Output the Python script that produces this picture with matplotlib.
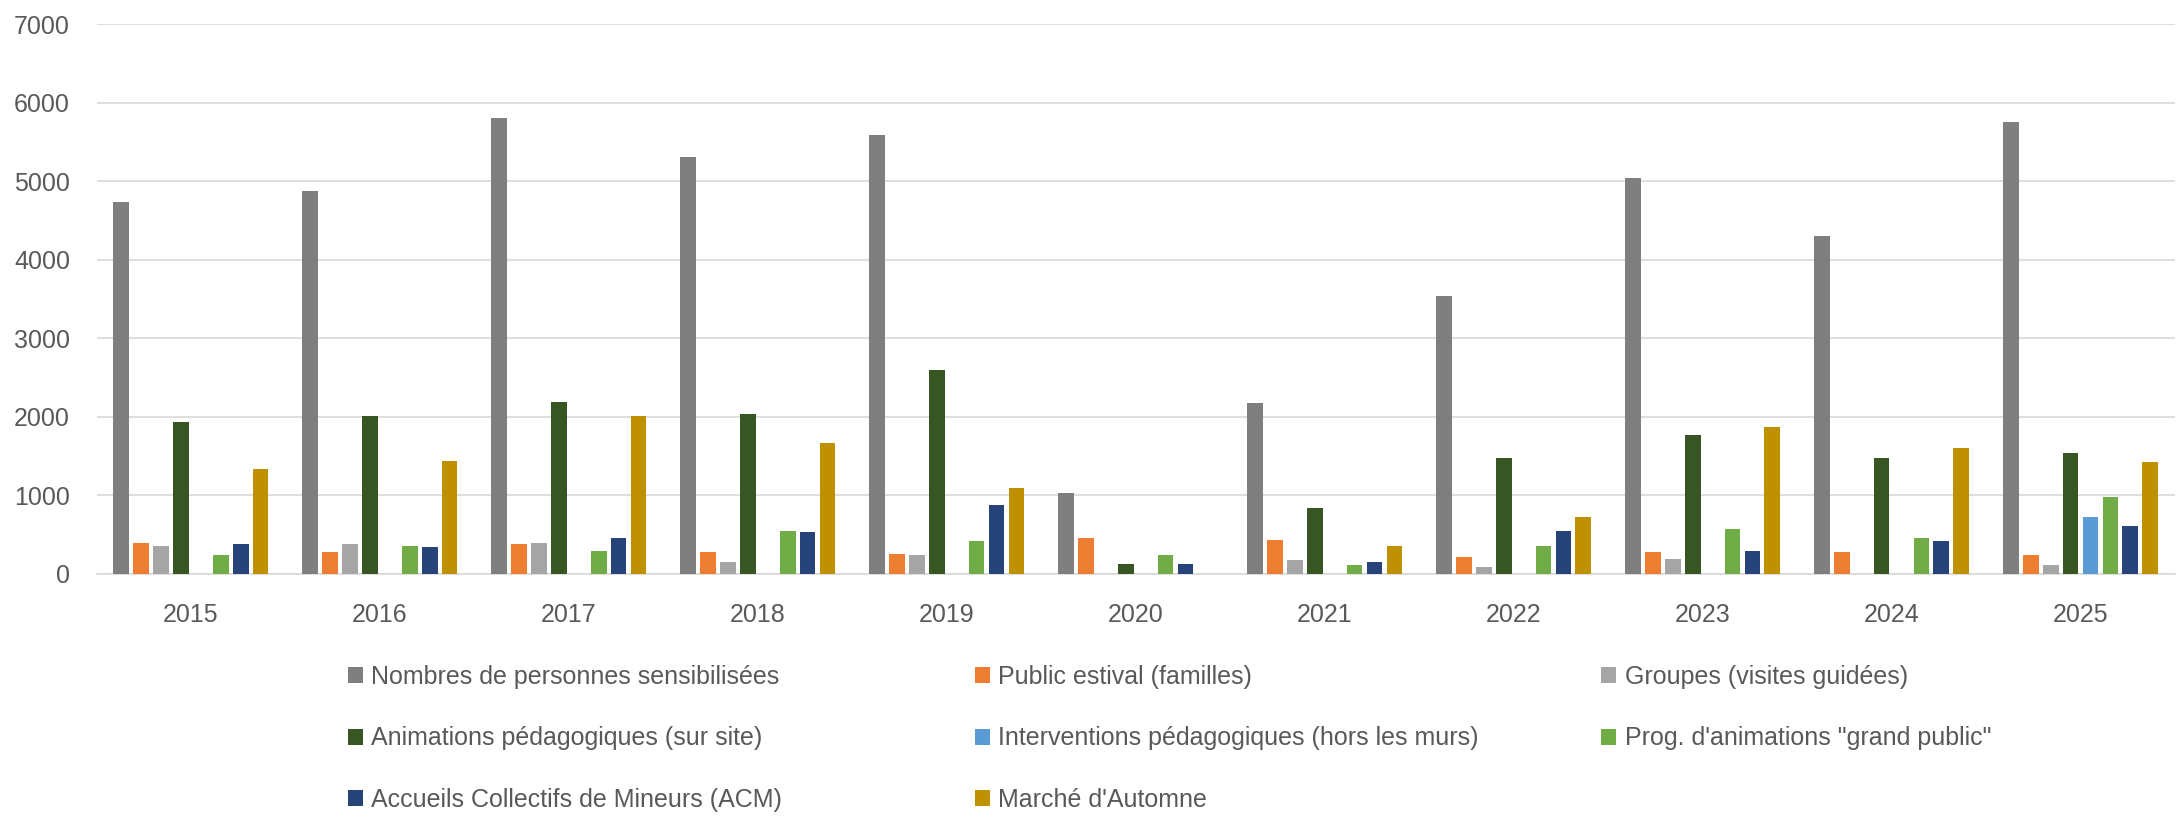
import matplotlib
matplotlib.use("Agg")
import matplotlib.pyplot as plt
import numpy as np
from matplotlib.patches import Patch

plt.rcParams['font.family'] = ['Liberation Sans', 'DejaVu Sans']

years = ["2015", "2016", "2017", "2018", "2019", "2020", "2021", "2022", "2023", "2024", "2025"]
nombres = [4735, 4875, 5806, 5309, 5593, 1031, 2171, 3540, 5041, 4305, 5755]
public_estival = [393, 270, 372, 270, 249, 453, 431, 210, 270, 270, 232]
groupes = [355, 372, 393, 147, 232, 0, 168, 87, 189, 0, 108]
animations = [1928, 2005, 2187, 2030, 2596, 125, 831, 1477, 1767, 1477, 1541]
interventions = [0, 0, 0, 0, 0, 0, 0, 0, 0, 0, 725]
prog_grand_public = [232, 351, 291, 542, 411, 232, 108, 351, 564, 453, 972]
acm = [372, 334, 453, 533, 870, 125, 147, 546, 291, 415, 606]
marche_automne = [1337, 1439, 2009, 1665, 1095, 0, 351, 725, 1869, 1601, 1418]

series_names = [
    "Nombres de personnes sensibilisées",
    "Public estival (familles)",
    "Groupes (visites guidées)",
    "Animations pédagogiques (sur site)",
    "Interventions pédagogiques (hors les murs)",
    "Prog. d'animations \"grand public\"",
    "Accueils Collectifs de Mineurs (ACM)",
    "Marché d'Automne",
]
series_values = [nombres, public_estival, groupes, animations, interventions,
                 prog_grand_public, acm, marche_automne]
colors = ["#7F7F7F", "#ED7D31", "#A5A5A5", "#375623", "#5B9BD5", "#70AD47", "#264478", "#BF9000"]

W, H = 2179, 818
fig = plt.figure(figsize=(W / 100, H / 100), dpi=100)
ax = fig.add_axes([96.5 / W, (H - 573.5) / H, (2175 - 96.5) / W, (573.5 - 24.3) / H])

x = np.arange(len(years))
slot = 0.1053
bw = 0.083
n = len(series_values)
handles = []
for i, (name, vals, c) in enumerate(zip(series_names, series_values, colors)):
    ax.bar(x + (i - (n - 1) / 2) * slot, vals, width=bw, color=c, label=name, zorder=3)
    handles.append(Patch(facecolor=c, edgecolor='none', label=name))

ax.set_xlim(-0.5, len(years) - 0.5)
ax.set_ylim(0, 7000)
ax.set_yticks(range(0, 7001, 1000))
ax.set_xticks(x)
ax.set_xticklabels(years)
ax.grid(axis='y', color='#D9D9D9', linewidth=1.2, zorder=0)
ax.set_axisbelow(True)
for s in ['top', 'right', 'left']:
    ax.spines[s].set_visible(False)
ax.spines['bottom'].set_color('#D9D9D9')
ax.spines['bottom'].set_linewidth(1.2)
ax.tick_params(axis='both', length=0, labelsize=18, labelcolor='#595959')
ax.tick_params(axis='x', pad=21)
ax.tick_params(axis='y', pad=19)

cols = [[0, 3, 6], [1, 4, 7], [2, 5]]
col_x = [347.6, 974.5, 1601]
top_y = 665
for cx, idxs in zip(col_x, cols):
    leg = fig.legend(handles=[handles[k] for k in idxs], loc='upper left',
                     bbox_to_anchor=(cx / W, (H - top_y) / H), frameon=False,
                     fontsize=18, handlelength=0.6, handleheight=0.6,
                     handletextpad=0.35, labelspacing=1.5, borderpad=0,
                     borderaxespad=0)
    for t in leg.get_texts():
        t.set_color('#595959')

fig.savefig("out.png", dpi=100, facecolor='white')
